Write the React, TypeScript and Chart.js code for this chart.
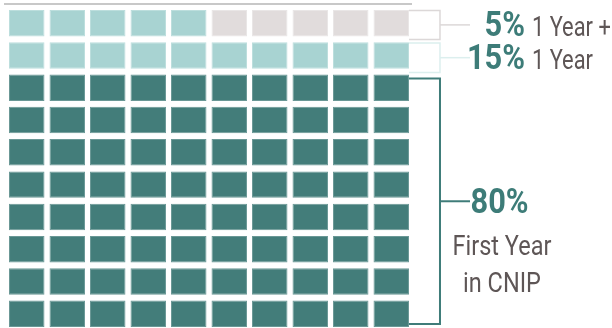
import React, { useEffect, useRef } from "react";
import { Chart, registerables } from "chart.js";

Chart.register(...registerables);

// ---- data ----
const columns = ["1", "2", "3", "4", "5", "6", "7", "8", "9", "10"];
const rowCount = 10;
const groupLabels = ["First Year in CNIP", "1 Year", "1 Year +"];
const groupShares = [80, 15, 5];
const groupPercentLabels = ["80%", "15%", "5%"];
const groupColors = ["#437d7a", "#a8d3d2", "#e1dcdc"];
const groupCellBorders = ["#6a9896", "#bcdedd", "#e9e6e6"];
const bracketColors = ["#3f7c79", "#dcefee", "#dcd8d8"];
const bracketRows = [[0, 7], [8, 8], [9, 9]];

// fill cells bottom-up, left-to-right
const cellGroup: number[] = [];
groupShares.forEach((s, g) => {
  for (let k = 0; k < s; k++) cellGroup.push(g);
});

const GAP = 0.09;

function drawText(
  ctx: CanvasRenderingContext2D,
  text: string,
  x: number,
  y: number,
  font: string,
  color: string,
  align: CanvasTextAlign,
  sx: number
) {
  ctx.save();
  ctx.translate(x, y);
  ctx.scale(sx, 1);
  ctx.font = font;
  ctx.fillStyle = color;
  ctx.textAlign = align;
  ctx.textBaseline = "alphabetic";
  ctx.fillText(text, 0, 0);
  ctx.restore();
}

const annotPlugin = {
  id: "waffleAnnot",
  afterDatasetsDraw(chart: any) {
    const ctx: CanvasRenderingContext2D = chart.ctx;
    const area = chart.chartArea;
    const yScale = chart.scales.y;
    // top rule
    ctx.save();
    ctx.strokeStyle = "#c8c8c8";
    ctx.lineWidth = 2;
    ctx.beginPath();
    ctx.moveTo(area.left - 2.5, yScale.getPixelForValue(rowCount) - 3);
    ctx.lineTo(area.right + 0.5, yScale.getPixelForValue(rowCount) - 3);
    ctx.stroke();
    ctx.restore();

    const lastBar = chart.getDatasetMeta(0).data[columns.length - 1];
    const barRight = lastBar.x + lastBar.width / 2;
    const boxRight = barRight + 31;
    const leaderEnd = boxRight + 30;
    const insets = [
      [4, -3],
      [0.8, 3.7],
      [0.5, 3],
    ];
    const widths = [2, 1.5, 1.5];

    bracketRows.forEach(([r0, r1], g) => {
      const top = yScale.getPixelForValue(r1 + 1 - GAP) + insets[g][0];
      const bottom = yScale.getPixelForValue(r0 + GAP) + insets[g][1];
      const mid = (top + bottom) / 2;
      ctx.save();
      ctx.strokeStyle = bracketColors[g];
      ctx.lineWidth = widths[g];
      ctx.beginPath();
      ctx.moveTo(barRight, top);
      ctx.lineTo(boxRight, top);
      ctx.lineTo(boxRight, bottom);
      ctx.lineTo(barRight, bottom);
      ctx.stroke();
      ctx.beginPath();
      ctx.moveTo(boxRight, mid);
      ctx.lineTo(leaderEnd, mid);
      ctx.stroke();
      ctx.restore();

      const pctFont = "bold 35px Roboto";
      const regFont = "28px Roboto";
      const pctColor = "#3d7c78";
      const txtColor = "#5e5656";
      if (g === 0) {
        drawText(ctx, groupPercentLabels[g], leaderEnd + 0.5, mid + 12, pctFont, pctColor, "left", 0.88);
        const parts = ["First Year", "in CNIP"];
        drawText(ctx, parts[0], leaderEnd + 32, mid + 53.5, regFont, txtColor, "center", 0.84);
        drawText(ctx, parts[1], leaderEnd + 32, mid + 90.5, regFont, txtColor, "center", 0.84);
      } else {
        drawText(ctx, groupPercentLabels[g], leaderEnd + 55, mid + 11.5, pctFont, pctColor, "right", 0.88);
        drawText(ctx, groupLabels[g], leaderEnd + 62, mid + 11, regFont, txtColor, "left", 0.78);
      }
    });
  },
};

export default function App() {
  const ref = useRef<HTMLCanvasElement | null>(null);

  useEffect(() => {
    if (!ref.current) return;
    const datasets = [];
    for (let r = 0; r < rowCount; r++) {
      const idx = columns.map((_, c) => r * columns.length + c);
      datasets.push({
        data: columns.map(() => [r + GAP, r + 1 - GAP]),
        backgroundColor: idx.map((i) => groupColors[cellGroup[i]]),
        borderColor: idx.map((i) => groupCellBorders[cellGroup[i]]),
        borderWidth: 1,
        borderSkipped: false,
        grouped: false,
        barPercentage: 1,
        categoryPercentage: 0.876,
      });
    }
    const chart = new Chart(ref.current, {
      type: "bar",
      data: { labels: columns, datasets: datasets as any },
      options: {
        animation: false,
        responsive: false,
        layout: { padding: { left: 6.5, right: 200.5, top: 7, bottom: 0 } },
        scales: {
          x: { type: "category", display: false, offset: true },
          y: { type: "linear", display: false, min: 0.06, max: rowCount },
        },
        plugins: { legend: { display: false }, tooltip: { enabled: false } },
      },
      plugins: [annotPlugin],
    });
    return () => chart.destroy();
  }, []);

  return (
    <div style={{ position: "fixed", left: 0, top: 0, width: 612, height: 328, background: "#fff" }}>
      <canvas ref={ref} width={612} height={328} style={{ display: "block" }} />
    </div>
  );
}
